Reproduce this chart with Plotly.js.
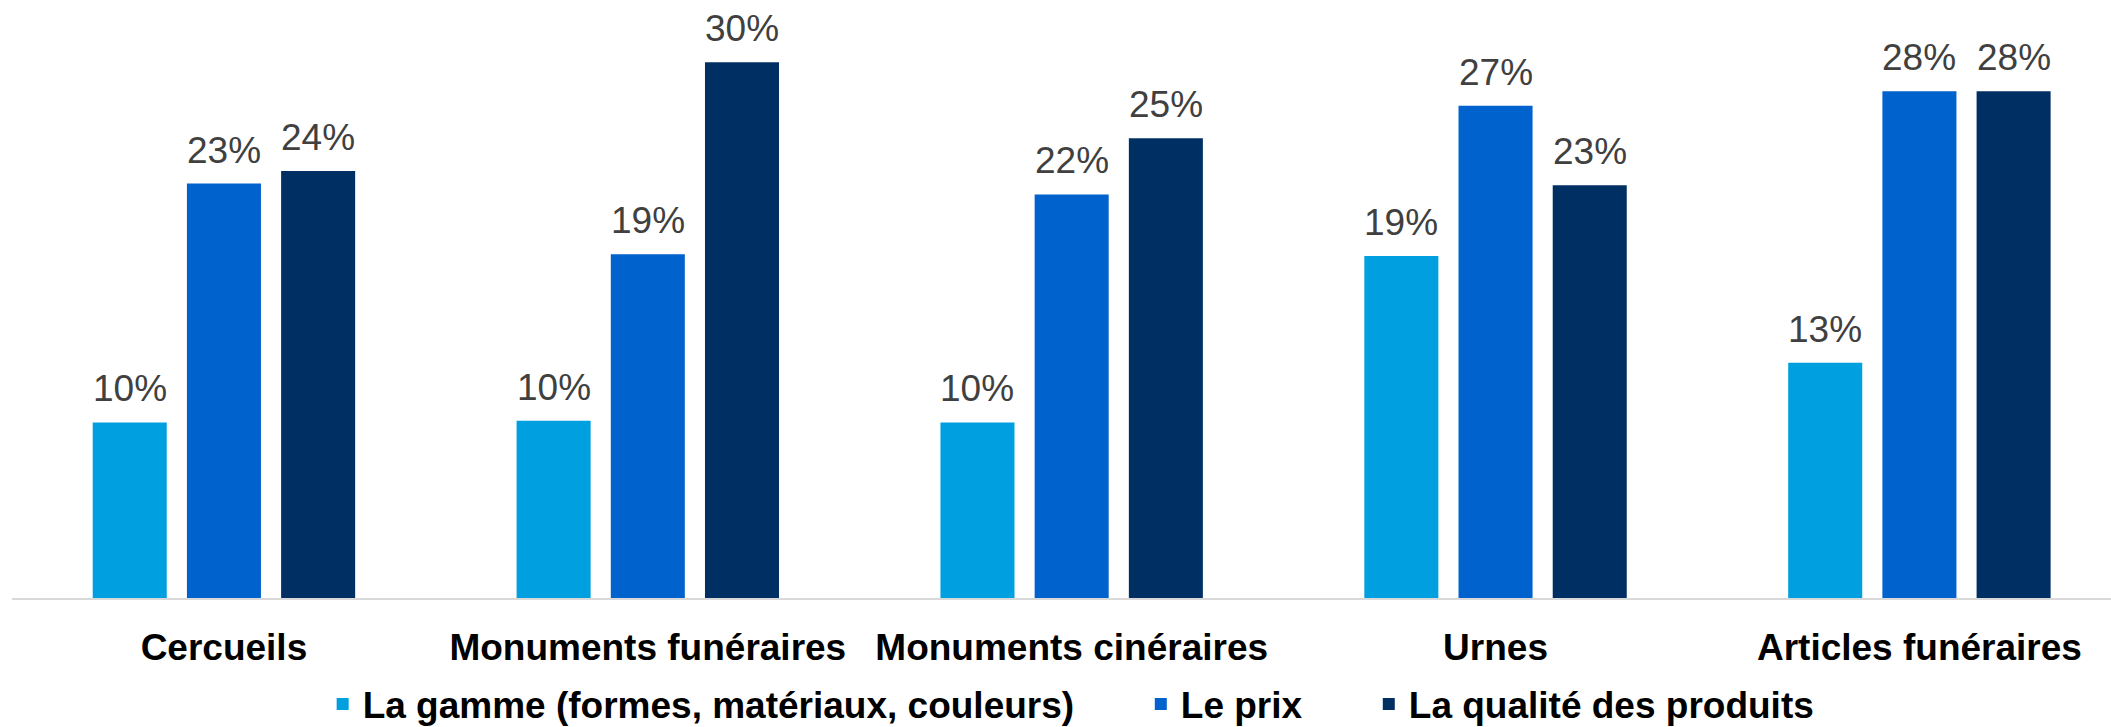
<!DOCTYPE html>
<html>
<head>
<meta charset="utf-8">
<script src="https://cdn.plot.ly/plotly-3.0.1.min.js"></script>
<style>
  html, body { margin: 0; padding: 0; background: #ffffff; overflow: hidden; }
  #chart { width: 2111px; height: 727px; }
</style>
</head>
<body>
<div id="chart"></div>
<script>
// ---- Data ----
const categories = ["Cercueils", "Monuments funéraires", "Monuments cinéraires", "Urnes", "Articles funéraires"];
const seriesNames = ["La gamme (formes, matériaux, couleurs)", "Le prix", "La qualité des produits"];
const gamme   = [9.7, 9.8, 9.7, 18.9, 13.0];
const prix    = [22.9, 19.0, 22.3, 27.2, 28.0];
const qualite = [23.6, 29.6, 25.4, 22.8, 28.0];
const seriesColors = ["#009FDF", "#0062CC", "#003063"];

// ---- Layout parameters ----
const BARGAP = 1 / 3;
const BARGROUPGAP = 0.214;
const FONT = "'Liberation Sans', Arial, Helvetica, sans-serif";
const LEGEND_PAD = "\u00A0\u00A0\u00A0\u00A0\u00A0\u00A0";

const allSeries = [gamme, prix, qualite];
const traces = allSeries.map((vals, i) => ({
  type: "bar",
  name: seriesNames[i] + (i < allSeries.length - 1 ? LEGEND_PAD : ""),
  x: categories,
  y: vals,
  marker: { color: seriesColors[i] },
  hoverinfo: "skip"
}));

// value labels placed above each bar via annotations (positions from data + bar geometry)
const slot = (1 - BARGAP) / allSeries.length;
const annotations = [];
allSeries.forEach((vals, i) => {
  const off = (i - (allSeries.length - 1) / 2) * slot;
  vals.forEach((v, j) => {
    annotations.push({
      x: j + off, y: v, xref: "x", yref: "y",
      text: Math.round(v) + "%",
      showarrow: false,
      yanchor: "bottom",
      yshift: 11,
      font: { family: FONT, size: 37, color: "#404040" }
    });
  });
});

const layout = {
  width: 2111,
  height: 727,
  margin: { l: 12, r: 0, t: 10, b: 129, pad: 0 },
  paper_bgcolor: "#ffffff",
  plot_bgcolor: "#ffffff",
  barmode: "group",
  bargap: BARGAP,
  bargroupgap: BARGROUPGAP,
  showlegend: true,
  legend: {
    orientation: "h",
    xref: "paper", x: 0.148, xanchor: "left",
    yref: "container", y: 0.031, yanchor: "middle",
    font: { family: FONT, size: 37, color: "#000000", weight: 700 },
    bgcolor: "rgba(0,0,0,0)",
    traceorder: "normal"
  },
  xaxis: {
    type: "category",
    range: [-0.5, 4.452],
    showline: true,
    linecolor: "#D9D9D9",
    linewidth: 2,
    ticks: "",
    tickangle: 0,
    ticklabelstandoff: 16,
    showgrid: false,
    zeroline: false,
    tickfont: { family: FONT, size: 37, color: "#000000", weight: 700 },
    automargin: false
  },
  yaxis: {
    range: [0, 32.49],
    visible: false,
    showgrid: false,
    zeroline: false,
    fixedrange: true
  },
  annotations: annotations
};

Plotly.newPlot("chart", traces, layout, { displayModeBar: false, staticPlot: true });
</script>
</body>
</html>
